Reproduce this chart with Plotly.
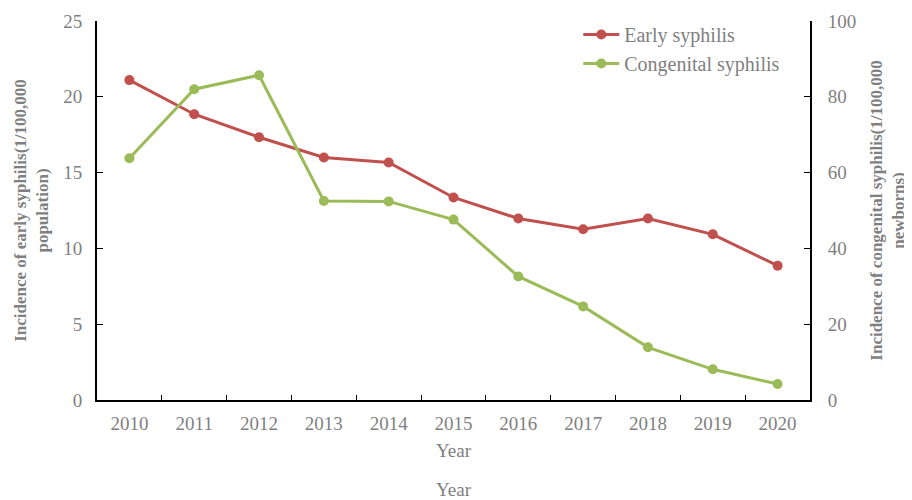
import plotly.graph_objects as go

years = ["2010", "2011", "2012", "2013", "2014", "2015", "2016", "2017", "2018", "2019", "2020"]
early = [21.1, 18.85, 17.33, 16.0, 15.67, 13.36, 11.97, 11.26, 11.97, 10.93, 8.86]
congenital = [63.8, 82.0, 85.7, 52.5, 52.4, 47.6, 32.6, 24.7, 13.9, 8.1, 4.2]

RED = "#C0504D"
GREEN = "#9BBB59"
GRAY = "#7F7F7F"
FONT = "Liberation Serif, Times New Roman, serif"

fig = go.Figure()
fig.add_trace(go.Scatter(x=years, y=early, name="Early syphilis", mode="lines+markers",
                         line=dict(color=RED, width=3), marker=dict(size=10, color=RED)))
fig.add_trace(go.Scatter(x=years, y=congenital, name="Congenital syphilis", mode="lines+markers",
                         line=dict(color=GREEN, width=3), marker=dict(size=10, color=GREEN),
                         yaxis="y2"))

# page body has an 8px default margin, so the figure is offset by 8px
fig.update_layout(
    width=904, height=492,
    margin=dict(l=89, r=102, t=13, b=100, autoexpand=False),
    paper_bgcolor="white", plot_bgcolor="white",
    font=dict(family=FONT, color=GRAY, size=19),
    showlegend=True,
    legend=dict(x=0.675, y=1.016, xanchor="left", yanchor="top",
                bgcolor="rgba(0,0,0,0)", font=dict(size=20, color=GRAY),
                itemwidth=36, tracegroupgap=0),
    xaxis=dict(type="category", showline=True, linecolor="black", linewidth=2,
               ticks="inside", ticklen=5, tickcolor="black", tickwidth=1,
               showgrid=False, zeroline=False, automargin=False,
               tickson="boundaries", ticklabelstandoff=5,
               tickfont=dict(size=19, color=GRAY),
               title=dict(text="Year", font=dict(size=19, color=GRAY), standoff=11),
               range=[-0.5, 10.5]),
    yaxis=dict(range=[0, 25], dtick=5, showline=True, linecolor="black", linewidth=2,
               ticks="inside", ticklen=6, tickcolor="black", showgrid=False, zeroline=False,
               automargin=False, ticklabelstandoff=9,
               tickfont=dict(size=19, color=GRAY),
               title=dict(text="<b>Incidence of early syphilis(1/100,000<br>population)</b>",
                          font=dict(size=17, color=GRAY), standoff=10)),
    yaxis2=dict(range=[0, 100], dtick=20, overlaying="y", side="right", showline=True,
                linecolor="black", linewidth=2, ticks="inside", ticklen=6, tickcolor="black",
                showgrid=False, zeroline=False, automargin=False, ticklabelstandoff=12,
                tickfont=dict(size=19, color=GRAY),
                title=dict(text="<b>Incidence of congenital syphilis(1/100,000<br>newborns)</b>",
                           font=dict(size=17, color=GRAY), standoff=15)),
    annotations=[dict(text="Year", x=0.5, xref="paper", y=-0.237, yref="paper",
                      yanchor="middle", showarrow=False, font=dict(size=19, color=GRAY))],
)

fig.write_html("out.html")
